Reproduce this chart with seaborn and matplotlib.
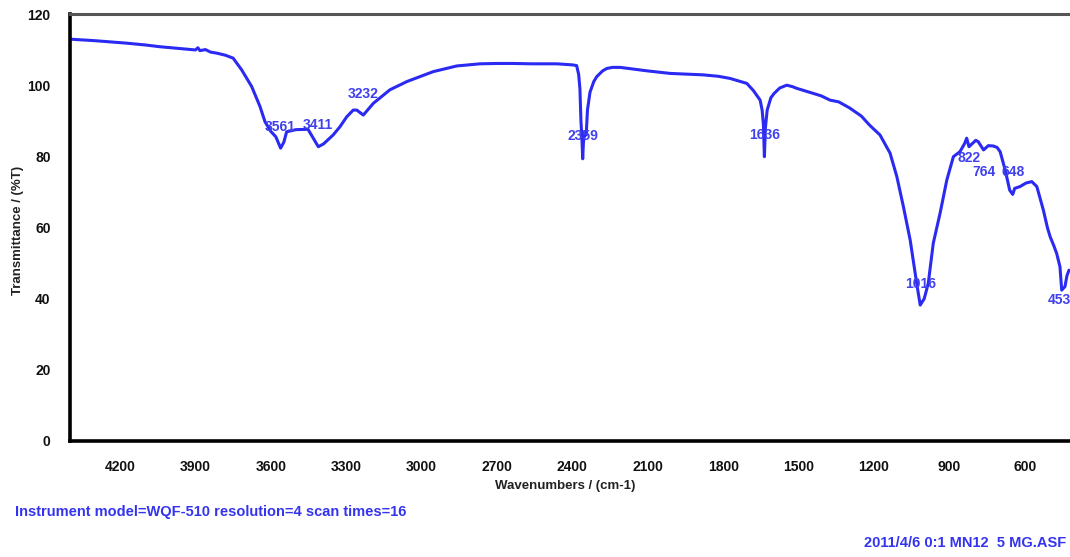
import matplotlib
matplotlib.use("Agg")
import matplotlib.pyplot as plt
from matplotlib.ticker import MultipleLocator, FixedLocator
import seaborn as sns
import pandas as pd

# FT-IR spectrum: wavenumber (cm-1) and transmittance (%T)
wavenumber = [4392, 4300, 4173, 4100, 4041, 3960, 3900, 3890, 3882, 3860, 3840, 3815,
              3780, 3750, 3716, 3676, 3643, 3623, 3600, 3580, 3561, 3548, 3537, 3500,
              3452, 3430, 3411, 3390, 3352, 3325, 3298, 3272, 3258, 3232, 3192, 3126,
              3059, 2954, 2860, 2767, 2700, 2636, 2560, 2462, 2400, 2383, 2375, 2370,
              2366, 2362, 2359, 2356, 2350, 2345, 2340, 2330, 2315, 2303, 2280, 2263,
              2240, 2210, 2100, 2011, 1950, 1880, 1820, 1773, 1730, 1706, 1680, 1653,
              1645, 1640, 1636, 1632, 1625, 1610, 1597, 1575, 1547, 1525, 1507, 1475,
              1442, 1410, 1375, 1340, 1297, 1250, 1218, 1176, 1136, 1109, 1083, 1056,
              1030, 1016, 1000, 984, 964, 937, 910, 884, 858, 840, 831, 822,
              810, 795, 785, 775, 764, 745, 725, 710, 698, 678, 660, 648,
              640, 619, 595, 572, 552, 526, 510, 499, 485, 473, 460, 453,
              440, 432, 424]
transmittance = [112.9, 112.5, 111.8, 111.3, 110.8, 110.3, 109.9, 110.5, 109.7, 110.0, 109.3, 109.0,
                 108.4, 107.6, 104.3, 99.6, 94.0, 89.7, 87.0, 85.5, 82.3, 84.0, 86.9, 87.5,
                 87.6, 85.0, 82.7, 83.5, 86.0, 88.3, 91.1, 93.0, 93.0, 91.6, 94.9, 98.7,
                 101.0, 103.8, 105.4, 106.0, 106.1, 106.1, 106.0, 106.0, 105.7, 105.5, 103.0, 99.0,
                 90.0, 85.0, 79.3, 84.0, 87.0, 86.0, 93.0, 98.0, 101.0, 102.4, 104.0, 104.7,
                 105.0, 105.0, 104.0, 103.3, 103.1, 102.9, 102.5, 101.9, 101.0, 100.5, 98.5, 95.8,
                 93.0, 89.0, 79.9, 88.0, 93.0, 96.5, 97.7, 99.2, 100.0, 99.6, 99.1, 98.4,
                 97.7, 97.0, 95.8, 95.3, 93.6, 91.3, 88.8, 86.0, 80.9, 74.3, 65.9, 56.5,
                 44.3, 38.2, 40.0, 44.3, 55.6, 64.0, 73.4, 79.9, 81.3, 83.5, 85.1, 82.7,
                 83.5, 84.5, 84.1, 83.0, 81.8, 83.0, 82.9, 82.5, 81.3, 76.2, 70.5, 69.3,
                 71.0, 71.5, 72.5, 72.9, 71.5, 64.9, 60.0, 57.4, 55.0, 52.7, 49.0, 42.4,
                 43.4, 46.5, 48.0]

# Labelled absorption bands
peak_labels = ["3561", "3411", "3232", "2359", "1636", "1016", "822", "764", "648", "453"]
peak_wn = [3561, 3411, 3232, 2359, 1636, 1016, 822, 764, 648, 453]
peak_t = [82.3, 82.7, 91.6, 79.3, 79.9, 38.2, 82.7, 81.8, 69.3, 42.4]
label_dy = [6.0, 6.0, 6.0, 6.4, 6.0, 6.0, -3.2, -6.2, 6.3, -2.8]
label_dx = [0, 0, 0, 0, 0, 0, 0, 0, 0, 10]

x_ticks = [4200, 3900, 3600, 3300, 3000, 2700, 2400, 2100, 1800, 1500, 1200, 900, 600]
y_ticks = [0, 20, 40, 60, 80, 100, 120]

sns.set_style("white")
plt.rcParams["font.family"] = ["Liberation Sans", "DejaVu Sans"]
plt.rcParams["font.weight"] = "bold"

fig = plt.figure(figsize=(10.70, 5.57), dpi=100)
ax = fig.add_axes([70 / 1070, 116 / 557, 1000 / 1070, 427 / 557])

df = pd.DataFrame({"wn": wavenumber, "T": transmittance})
line_blue = "#2a2af2"
sns.lineplot(data=df, x="wn", y="T", sort=False, ax=ax, color=line_blue,
             linewidth=2.2, estimator=None)

label_blue = "#4040ee"
for lab, xw, yt, dx, dy in zip(peak_labels, peak_wn, peak_t, label_dx, label_dy):
    ax.text(xw + dx, yt + dy, lab, ha="center", va="center", color=label_blue,
            fontsize=10, fontweight="bold")

ax.set_xlim(4399, 420)
ax.set_ylim(0, 120)
ax.xaxis.set_major_locator(FixedLocator(x_ticks))
ax.xaxis.set_minor_locator(MultipleLocator(75))
ax.yaxis.set_major_locator(FixedLocator(y_ticks))
ax.yaxis.set_minor_locator(MultipleLocator(5))
ax.set_xticklabels([str(v) for v in x_ticks])
ax.set_yticklabels([str(v) for v in y_ticks])

ax.tick_params(axis="both", which="major", direction="out", length=5, width=1.6,
               color="#a0a0a0", labelsize=10, labelcolor="#111111", pad=9)
ax.tick_params(axis="both", which="minor", direction="out", length=3, width=1.4,
               color="#b8b8b8")
for t in ax.get_xticklabels() + ax.get_yticklabels():
    t.set_fontweight("bold")

for side in ("left", "bottom"):
    ax.spines[side].set_color("#000000")
    ax.spines[side].set_linewidth(2.6)
ax.spines["top"].set_color("#555555")
ax.spines["top"].set_linewidth(2.2)
ax.spines["right"].set_visible(False)

ax.set_xlabel("Wavenumbers / (cm-1)", fontsize=9.5, fontweight="bold", color="#222222",
              labelpad=4)
ax.set_ylabel("Transmittance / (%T)", fontsize=9.5, fontweight="bold", color="#222222",
              labelpad=14)
ax.xaxis.set_label_coords((565 - 70) / 1000, -(480 - 441) / 427)
ax.yaxis.set_label_coords(-(70 - 24) / 1000, (441 - 230) / 427)

info_blue = "#3434f0"
fig.text(15 / 1070, 1 - 512 / 557, "Instrument model=WQF-510 resolution=4 scan times=16",
         color=info_blue, fontsize=10.5, fontweight="bold", ha="left", va="center")
fig.text(1066 / 1070, 1 - 543 / 557, "2011/4/6 0:1 MN12  5 MG.ASF",
         color=info_blue, fontsize=10.5, fontweight="bold", ha="right", va="center")

fig.savefig("out.png", dpi=100)
